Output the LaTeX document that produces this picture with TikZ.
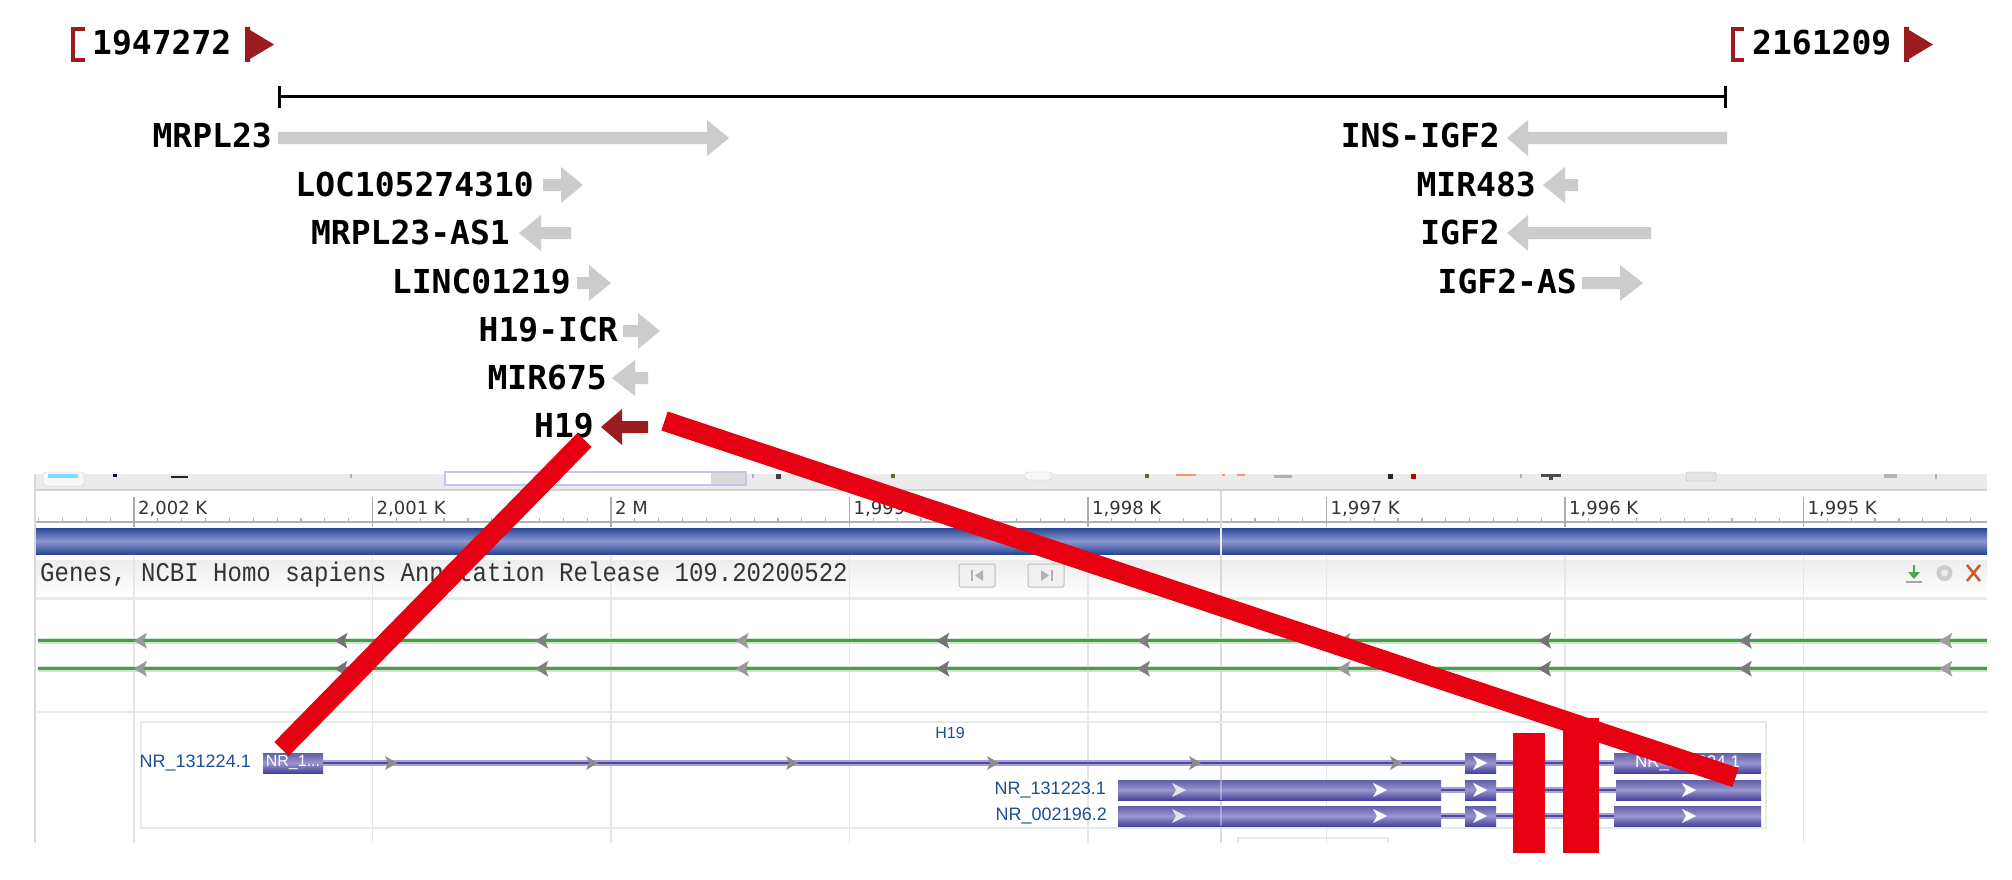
\documentclass[tikz,border=0pt]{standalone}
\usepackage{fontspec}
\setmainfont{DejaVu Sans}
\newfontfamily\lblfont{DejaVu Sans Mono}
\newfontfamily\hdrfont[FakeStretch=0.89]{Liberation Mono}
\newfontfamily\nrfont{Liberation Sans}
\newfontfamily\rulerfont{DejaVu Sans}
\definecolor{dred}{HTML}{9B1C20}
\definecolor{ggrey}{HTML}{CCCCCC}
\definecolor{cred}{HTML}{E60012}
\definecolor{bbar}{HTML}{2A4896}
\definecolor{bbarl}{HTML}{8D97CF}
\definecolor{exd}{HTML}{45419A}
\definecolor{exl}{HTML}{9A96CE}
\definecolor{ntext}{HTML}{1E4F96}
\definecolor{gline}{HTML}{4C9C4C}
\definecolor{ghalo}{HTML}{CDE4CD}
\definecolor{gridc}{HTML}{E6E6E6}
\definecolor{sepg}{HTML}{E2EEE2}
\definecolor{tbar}{HTML}{EBEBEB}
\definecolor{intd}{HTML}{4D4A9E}
\definecolor{intl}{HTML}{A7A2D6}
\definecolor{xred}{HTML}{C85A32}
\newcommand\gar[5]{\fill[#5] ({#1},{#4-6}) -- ({#2},{#4-6}) -- ({#2},{#4-18}) -- ({#3},{#4}) -- ({#2},{#4+18}) -- ({#2},{#4+6}) -- ({#1},{#4+6}) -- cycle;}
\newcommand\larr[3]{\fill[#3] ({#1},{#2}) -- ({#1+13},{#2-8}) -- ({#1+10},{#2}) -- ({#1+13},{#2+8}) -- cycle;}
\newcommand\rarr[3]{\fill[#3] ({#1},{#2}) -- ({#1-12},{#2-7}) -- ({#1-9},{#2}) -- ({#1-12},{#2+7}) -- cycle;}
\newcommand\chev[3]{\fill[#3] ({#1},{#2-7}) -- ({#1+14},{#2}) -- ({#1},{#2+7}) -- ({#1+4},{#2}) -- cycle;}
\tikzset{
  gl/.style={font=\lblfont\bfseries\fontsize{33}{33}\selectfont, inner sep=0pt, anchor=base east},
  poslbl/.style={font=\lblfont\bfseries\fontsize{33}{33}\selectfont, inner sep=0pt, anchor=base west},
  ntx/.style={font=\nrfont\fontsize{18}{18}\selectfont, text=ntext, inner sep=0pt},
  rl/.style={font=\rulerfont\fontsize{18}{18}\selectfont, text=black!80, inner sep=0pt, anchor=base west},
  exon/.style={rectangle, inner sep=0pt, top color=exd!85, bottom color=exd, middle color=exl, text=white, font=\nrfont\fontsize{16}{16}\selectfont},
  callout/.style={draw=cred, line width=20pt},
  btn/.style={fill=gray!12, draw=gray!50, rounded corners=2pt, line width=1pt},
}
\begin{document}
\begin{tikzpicture}[x=1pt,y=-1pt]
\useasboundingbox[fill=white] (0,0) rectangle (2012,880);
% ---------- top: position header ----------
\draw[dred, line width=4pt] (85,29) -- (73,29) -- (73,60) -- (85,60);
\node[poslbl] (p1) at (92,55) {1947272};
\fill[dred] (245,27) -- (250,27) -- (250,30) -- (274,44.5) -- (250,59) -- (250,62) -- (245,62) -- cycle;
\draw[dred, line width=4pt] (1744,29) -- (1733,29) -- (1733,60) -- (1744,60);
\node[poslbl] (p2) at (1752,55) {2161209};
\fill[dred] (1904,27) -- (1909,27) -- (1909,30) -- (1933,44.5) -- (1909,59) -- (1909,62) -- (1904,62) -- cycle;
\draw[line width=3pt] (279,97) -- (1725,97);
\draw[line width=3pt] (279,86) -- (279,108);
\draw[line width=3pt] (1725,86) -- (1725,108);
% ---------- genes ----------
\gar{278}{707}{729}{138}{ggrey}
\node[gl] (g1) at (272,147) {MRPL23};
\gar{543}{561}{583}{185}{ggrey}
\node[gl] (g2) at (534,196) {LOC105274310};
\gar{571}{541}{519}{233}{ggrey}
\node[gl] (g3) at (510,244) {MRPL23-AS1};
\gar{577}{589}{611}{283}{ggrey}
\node[gl] (g4) at (571,293) {LINC01219};
\gar{623}{638}{660}{331}{ggrey}
\node[gl] (g5) at (618,341) {H19-ICR};
\gar{648}{635}{612}{378}{ggrey}
\node[gl] (g6) at (607,389) {MIR675};
\gar{648}{622}{601}{427}{dred}
\node[gl] (g7) at (594,437) {H19};
\gar{1727}{1528}{1507}{138}{ggrey}
\node[gl] (g8) at (1500,147) {INS-IGF2};
\gar{1578}{1565}{1543}{185}{ggrey}
\node[gl] (g9) at (1536,196) {MIR483};
\gar{1651}{1528}{1507}{233}{ggrey}
\node[gl] (g10) at (1500,244) {IGF2};
\gar{1582}{1620}{1643}{283}{ggrey}
\node[gl] (g11) at (1577,293) {IGF2-AS};
% ---------- browser: toolbar ----------
\fill[tbar] (35,474) rectangle (1987,490);
\fill[gray!35] (35,489) rectangle (1987,491);
\draw[fill=gray!6, draw=gray!40, rounded corners=3pt] (43,472) rectangle (84,486);
\fill[blue!30!cyan!50] (48,474) rectangle (78,478);
\fill[black!70!blue] (113,474) rectangle (117,477);
\fill[black!85] (171,476) rectangle (188,478);
\fill[gray!60] (350,474) rectangle (352,478);
\draw[fill=white, draw=gray!45!blue!30, line width=1.2pt] (445,472) rectangle (746,485);
\fill[gray!30] (711,473) rectangle (745,484);
\fill[gray!60] (752,474) rectangle (754,478);
\fill[black!75] (776,474) rectangle (781,479);
\fill[olive!70!black] (891,474) rectangle (895,478);
\draw[fill=gray!6, draw=gray!45, rounded corners=3pt] (1025,472) rectangle (1052,480);
\fill[olive!70!black] (1145,474) rectangle (1149,478);
\fill[red!45!orange!60] (1176,474) rectangle (1196,476);
\fill[red!45!orange!60] (1222,474) rectangle (1225,476);
\fill[red!45!orange!60] (1237,474) rectangle (1245,476);
\fill[gray!60] (1274,475) rectangle (1292,478);
\fill[black!85] (1388,474) rectangle (1393,479);
\fill[red!75!black] (1411,474) rectangle (1416,479);
\fill[gray!60] (1520,474) rectangle (1522,478);
\fill[black!70] (1541,474) rectangle (1561,477);
\fill[black!70] (1549,474) rectangle (1553,480);
\draw[fill=gray!20, draw=gray!55, rounded corners=2pt] (1686,472) rectangle (1716,481);
\fill[gray!60] (1884,474) rectangle (1897,478);
\fill[gray!60] (1935,474) rectangle (1937,479);
% ---------- ruler ----------
\draw[gray!60, line width=2pt] (36,522) -- (1987,522);
\foreach \k in {-4,...,77} {\pgfmathsetmacro\tx{134+23.85*\k}\draw[gray!60, line width=1.2pt] (\tx,518) -- (\tx,522);}
\foreach \i in {0,...,7} {\pgfmathsetmacro\tx{134+238.5*\i}\draw[gray!65, line width=1.5pt] (\tx,497) -- (\tx,527);}
\node[rl] (r1) at (138,514) {2,002 K};
\node[rl] (r2) at (376.5,514) {2,001 K};
\node[rl] (r3) at (615,514) {2 M};
\node[rl] (r4) at (853.5,514) {1,999 K};
\node[rl] (r5) at (1092,514) {1,998 K};
\node[rl] (r6) at (1330.5,514) {1,997 K};
\node[rl] (r7) at (1569,514) {1,996 K};
\node[rl] (r8) at (1807.5,514) {1,995 K};
% ---------- blue bar, header ----------
\shade[top color=bbar, bottom color=bbar, middle color=bbarl] (36,528) rectangle (1987,554);
\shade[top color=gray!14, bottom color=white] (36,560) rectangle (1987,597);
\fill[sepg] (36,597) rectangle (1987,600);
\foreach \i in {0,...,7} {\pgfmathsetmacro\tx{134+238.5*\i}\draw[gridc, line width=1.5pt] (\tx,556) -- (\tx,843);}
\draw[gray!30, line width=2pt] (1221,491) -- (1221,843);
\draw[white, opacity=0.5, line width=1.5pt] (1221,528) -- (1221,554);
\draw[gray!30, line width=2.5pt] (35,474) -- (35,843);
\node[font=\hdrfont\fontsize{27}{27}\selectfont, text=black!80, inner sep=0pt, anchor=base west] (hdr) at (40,581) {Genes, NCBI Homo sapiens Annotation Release 109.20200522};
\draw[btn] (959,564) rectangle (995,587);
\draw[gray!60, line width=1.5pt] (972,570) -- (972,581);
\fill[gray!60] (983,570) -- (975,575.5) -- (983,581) -- cycle;
\draw[btn] (1028,564) rectangle (1064,587);
\fill[gray!60] (1041,570) -- (1049,575.5) -- (1041,581) -- cycle;
\draw[gray!60, line width=1.5pt] (1052,570) -- (1052,581);
\draw[green!50!black!70, line width=2.5pt] (1914,565) -- (1914,574);
\fill[green!50!black!70] (1908,572) -- (1920,572) -- (1914,579) -- cycle;
\draw[gray!70, line width=2pt] (1906,582) -- (1922,582);
\fill[gray!40] (1944.5,573) circle (8);
\fill[gray!15] (1944.5,573) circle (3.5);
\draw[xred, line width=2.5pt] (1967,565) -- (1980,581) (1967,581) -- (1980,565);
% ---------- green tracks ----------
\foreach \yy in {640.7,668.7} {
  \draw[ghalo, line width=6pt] (38,\yy) -- (1987,\yy);
  \draw[gline, line width=3pt] (38,\yy) -- (1987,\yy);
  \foreach \k/\c in {0/40,1/55,2/50,3/40,4/55,5/50,6/40,7/55,8/52,9/38} {
    \pgfmathsetmacro\tx{134+200.6*\k}
    \larr{\tx}{\yy}{black!\c}
  }
}
\fill[sepg] (38,711) rectangle (1987,713);
% ---------- H19 gene box ----------
\draw[sepg, line width=2pt] (141,722) rectangle (1766,828);
\draw[sepg, line width=2pt] (1238,843) -- (1238,838) -- (1388,838) -- (1388,843);
\node[ntx, font=\nrfont\fontsize{16}{16}\selectfont] (h19lbl) at (950,733) {H19};
% introns
\foreach \a/\b/\yy in {323/1465/763, 1496/1614/763, 1441/1465/790, 1496/1616/790, 1441/1465/816, 1496/1614/816} {
  \draw[intl, line width=6pt] (\a,\yy) -- (\b,\yy);
  \draw[intd, line width=2.5pt] (\a,\yy) -- (\b,\yy);
}
\foreach \tx in {397,598,798,999,1201,1402} {\rarr{\tx}{763}{black!45}}
% exons
\node[exon, minimum width=60pt, minimum height=20pt] (e11) at (293,763) {NR\_1...};
\node[exon, minimum width=31pt, minimum height=20pt] (e12) at (1480.5,763) {};
\node[exon, minimum width=147pt, minimum height=20pt, font=\nrfont\fontsize{17}{17}\selectfont] (e13) at (1687.5,763) {NR\_131224.1};
\node[exon, minimum width=323pt, minimum height=20pt] (e21) at (1279.5,790) {};
\node[exon, minimum width=31pt, minimum height=20pt] (e22) at (1480.5,790) {};
\node[exon, minimum width=145pt, minimum height=20pt] (e23) at (1688.5,790) {};
\node[exon, minimum width=323pt, minimum height=20pt] (e31) at (1279.5,816) {};
\node[exon, minimum width=31pt, minimum height=20pt] (e32) at (1480.5,816) {};
\node[exon, minimum width=147pt, minimum height=20pt] (e33) at (1687.5,816) {};
\draw[white, opacity=0.35, line width=1.5pt] (1221,780) -- (1221,800) (1221,806) -- (1221,826);
\chev{1473}{763}{white}
\foreach \yy in {790,816} {
  \chev{1172}{\yy}{gray!20}
  \chev{1373}{\yy}{white}
  \chev{1473}{\yy}{white}
  \chev{1682}{\yy}{white}
}
\node[ntx, anchor=east] (n1) at (251,763) {NR\_131224.1};
\node[ntx, anchor=east] (n2) at (1106,790) {NR\_131223.1};
\node[ntx, anchor=east] (n3) at (1107,816) {NR\_002196.2};
% ---------- red callouts ----------
\coordinate (ca1) at (584.5,440);
\coordinate (ca2) at (281.5,749);
\coordinate (cb1) at (664.5,421);
\coordinate (cb2) at (1735.5,777.5);
\draw[callout] (ca1) -- (ca2);
\draw[callout] (cb1) -- (cb2);
\fill[cred] (1513,733) rectangle (1545,853);
\fill[cred] (1563,718) rectangle (1599,853);
\end{tikzpicture}
\end{document}
